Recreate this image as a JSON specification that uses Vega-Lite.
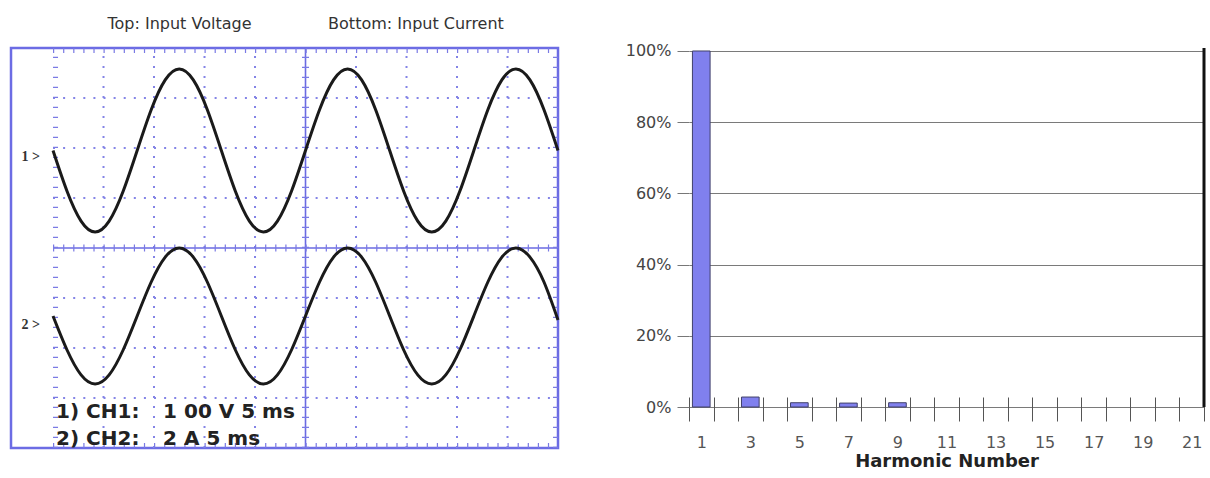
{
  "$schema": "https://vega.github.io/schema/vega-lite/v6.json",
  "background": "white",
  "padding": {"left": 9, "top": 14, "right": 5, "bottom": 5},
  "config": {"view": {"stroke": null}, "font": "DejaVu Sans"},
  "bounds": "flush",
  "spacing": 131,
  "datasets": {
    "waves": [
      {"ch": 1, "t": 0, "v": 1.95}, {"ch": 1, "t": 1.389, "v": 1.135}, {"ch": 1, "t": 2.778, "v": 0.538}, {"ch": 1, "t": 4.167, "v": 0.32},
      {"ch": 1, "t": 5.556, "v": 0.538}, {"ch": 1, "t": 6.944, "v": 1.135}, {"ch": 1, "t": 8.333, "v": 1.95}, {"ch": 1, "t": 9.722, "v": 2.765},
      {"ch": 1, "t": 11.111, "v": 3.362}, {"ch": 1, "t": 12.5, "v": 3.58}, {"ch": 1, "t": 13.889, "v": 3.362}, {"ch": 1, "t": 15.278, "v": 2.765},
      {"ch": 1, "t": 16.667, "v": 1.95}, {"ch": 1, "t": 18.056, "v": 1.135}, {"ch": 1, "t": 19.444, "v": 0.538}, {"ch": 1, "t": 20.833, "v": 0.32},
      {"ch": 1, "t": 22.222, "v": 0.538}, {"ch": 1, "t": 23.611, "v": 1.135}, {"ch": 1, "t": 25, "v": 1.95}, {"ch": 1, "t": 26.389, "v": 2.765},
      {"ch": 1, "t": 27.778, "v": 3.362}, {"ch": 1, "t": 29.167, "v": 3.58}, {"ch": 1, "t": 30.556, "v": 3.362}, {"ch": 1, "t": 31.944, "v": 2.765},
      {"ch": 1, "t": 33.333, "v": 1.95}, {"ch": 1, "t": 34.722, "v": 1.135}, {"ch": 1, "t": 36.111, "v": 0.538}, {"ch": 1, "t": 37.5, "v": 0.32},
      {"ch": 1, "t": 38.889, "v": 0.538}, {"ch": 1, "t": 40.278, "v": 1.135}, {"ch": 1, "t": 41.667, "v": 1.95}, {"ch": 1, "t": 43.056, "v": 2.765},
      {"ch": 1, "t": 44.444, "v": 3.362}, {"ch": 1, "t": 45.833, "v": 3.58}, {"ch": 1, "t": 47.222, "v": 3.362}, {"ch": 1, "t": 48.611, "v": 2.765},
      {"ch": 1, "t": 50, "v": 1.95},
      {"ch": 2, "t": 0, "v": -1.36}, {"ch": 2, "t": 1.389, "v": -2.04}, {"ch": 2, "t": 2.778, "v": -2.538}, {"ch": 2, "t": 4.167, "v": -2.72},
      {"ch": 2, "t": 5.556, "v": -2.538}, {"ch": 2, "t": 6.944, "v": -2.04}, {"ch": 2, "t": 8.333, "v": -1.36}, {"ch": 2, "t": 9.722, "v": -0.68},
      {"ch": 2, "t": 11.111, "v": -0.182}, {"ch": 2, "t": 12.5, "v": 0}, {"ch": 2, "t": 13.889, "v": -0.182}, {"ch": 2, "t": 15.278, "v": -0.68},
      {"ch": 2, "t": 16.667, "v": -1.36}, {"ch": 2, "t": 18.056, "v": -2.04}, {"ch": 2, "t": 19.444, "v": -2.538}, {"ch": 2, "t": 20.833, "v": -2.72},
      {"ch": 2, "t": 22.222, "v": -2.538}, {"ch": 2, "t": 23.611, "v": -2.04}, {"ch": 2, "t": 25, "v": -1.36}, {"ch": 2, "t": 26.389, "v": -0.68},
      {"ch": 2, "t": 27.778, "v": -0.182}, {"ch": 2, "t": 29.167, "v": 0}, {"ch": 2, "t": 30.556, "v": -0.182}, {"ch": 2, "t": 31.944, "v": -0.68},
      {"ch": 2, "t": 33.333, "v": -1.36}, {"ch": 2, "t": 34.722, "v": -2.04}, {"ch": 2, "t": 36.111, "v": -2.538}, {"ch": 2, "t": 37.5, "v": -2.72},
      {"ch": 2, "t": 38.889, "v": -2.538}, {"ch": 2, "t": 40.278, "v": -2.04}, {"ch": 2, "t": 41.667, "v": -1.36}, {"ch": 2, "t": 43.056, "v": -0.68},
      {"ch": 2, "t": 44.444, "v": -0.182}, {"ch": 2, "t": 45.833, "v": 0}, {"ch": 2, "t": 47.222, "v": -0.182}, {"ch": 2, "t": 48.611, "v": -0.68},
      {"ch": 2, "t": 50, "v": -1.44}
    ],
    "harmonics": [
      {"harmonic": 1, "pct": 1.0},
      {"harmonic": 3, "pct": 0.028},
      {"harmonic": 5, "pct": 0.012},
      {"harmonic": 7, "pct": 0.011},
      {"harmonic": 9, "pct": 0.012}
    ]
  },
  "hconcat": [
    {
      "width": 547,
      "height": 400,
      "view": {"stroke": "#6c6ce4", "strokeWidth": 2.5},
      "layer": [
        {
          "data": {"values": [{"v": -3}, {"v": -2}, {"v": -1}, {"v": 1}, {"v": 2}, {"v": 3}]},
          "mark": {"type": "rule", "color": "#8484e6", "strokeWidth": 2, "strokeDash": [2, 8.1]},
          "encoding": {
            "y": {"field": "v", "type": "quantitative", "scale": {"domain": [-4, 4], "nice": false, "zero": false}, "axis": null},
            "x": {"datum": 0, "type": "quantitative", "scale": {"domain": [-4.16, 50], "nice": false, "zero": false}, "axis": null},
            "x2": {"datum": 50}
          }
        },
        {
          "data": {"values": [{"t": 5}, {"t": 10}, {"t": 15}, {"t": 20}, {"t": 30}, {"t": 35}, {"t": 40}, {"t": 45}]},
          "mark": {"type": "rule", "color": "#8484e6", "strokeWidth": 2, "strokeDash": [2, 8]},
          "encoding": {
            "x": {"field": "t", "type": "quantitative", "scale": {"domain": [-4.16, 50], "nice": false, "zero": false}, "axis": null},
            "y": {"datum": -4, "type": "quantitative", "scale": {"domain": [-4, 4], "nice": false, "zero": false}, "axis": null},
            "y2": {"datum": 4}
          }
        },
        {
          "data": {"values": [{"v": 0}]},
          "mark": {"type": "rule", "color": "#6a6ae2", "strokeWidth": 1.6},
          "encoding": {
            "y": {"field": "v", "type": "quantitative", "axis": null},
            "x": {"datum": 0, "type": "quantitative", "axis": null},
            "x2": {"datum": 50}
          }
        },
        {
          "data": {"values": [{"t": 25}]},
          "mark": {"type": "rule", "color": "#6a6ae2", "strokeWidth": 1.6},
          "encoding": {
            "x": {"field": "t", "type": "quantitative", "axis": null},
            "y": {"datum": -4, "type": "quantitative", "axis": null},
            "y2": {"datum": 4}
          }
        },
        {
          "data": {"values": [{"v": 0}]},
          "mark": {"type": "rule", "color": "#7a7ae4", "strokeWidth": 7, "strokeDash": [1.2, 8.9]},
          "encoding": {
            "y": {"field": "v", "type": "quantitative", "axis": null},
            "x": {"datum": 0, "type": "quantitative", "axis": null},
            "x2": {"datum": 50}
          }
        },
        {
          "data": {"values": [{"v": 4}]},
          "mark": {"type": "rule", "color": "#7a7ae4", "strokeWidth": 5, "yOffset": 2.5, "strokeDash": [1.2, 8.9]},
          "encoding": {
            "y": {"field": "v", "type": "quantitative", "axis": null},
            "x": {"datum": 0, "type": "quantitative", "axis": null},
            "x2": {"datum": 50}
          }
        },
        {
          "data": {"values": [{"v": -4}]},
          "mark": {"type": "rule", "color": "#7a7ae4", "strokeWidth": 5, "yOffset": -2.5, "strokeDash": [1.2, 8.9]},
          "encoding": {
            "y": {"field": "v", "type": "quantitative", "axis": null},
            "x": {"datum": 0, "type": "quantitative", "axis": null},
            "x2": {"datum": 50}
          }
        },
        {
          "data": {"values": [{"t": 25}]},
          "mark": {"type": "rule", "color": "#7a7ae4", "strokeWidth": 7, "strokeDash": [1.2, 8.8]},
          "encoding": {
            "x": {"field": "t", "type": "quantitative", "axis": null},
            "y": {"datum": -4, "type": "quantitative", "axis": null},
            "y2": {"datum": 4}
          }
        },
        {
          "data": {"values": [{"t": 0}]},
          "mark": {"type": "rule", "color": "#7a7ae4", "strokeWidth": 5, "xOffset": 2.5, "strokeDash": [1.2, 8.8]},
          "encoding": {
            "x": {"field": "t", "type": "quantitative", "axis": null},
            "y": {"datum": -4, "type": "quantitative", "axis": null},
            "y2": {"datum": 4}
          }
        },
        {
          "data": {"values": [{"t": 50}]},
          "mark": {"type": "rule", "color": "#7a7ae4", "strokeWidth": 5, "xOffset": -2.5, "strokeDash": [1.2, 8.8]},
          "encoding": {
            "x": {"field": "t", "type": "quantitative", "axis": null},
            "y": {"datum": -4, "type": "quantitative", "axis": null},
            "y2": {"datum": 4}
          }
        },
        {
          "data": {"name": "waves"},
          "mark": {"type": "line", "color": "#1a1a1a", "strokeWidth": 3, "interpolate": "natural"},
          "encoding": {
            "x": {"field": "t", "type": "quantitative", "axis": null},
            "y": {"field": "v", "type": "quantitative", "axis": null},
            "detail": {"field": "ch", "type": "nominal"}
          }
        },
        {
          "data": {"values": [
            {"t": 12.52, "v": 4.48, "label": "Top: Input Voltage"},
            {"t": 35.94, "v": 4.48, "label": "Bottom: Input Current"}
          ]},
          "mark": {"type": "text", "font": "DejaVu Sans", "fontSize": 16, "color": "#333333", "align": "center", "baseline": "middle"},
          "encoding": {
            "x": {"field": "t", "type": "quantitative", "axis": null},
            "y": {"field": "v", "type": "quantitative", "axis": null},
            "text": {"field": "label"}
          }
        },
        {
          "data": {"values": [
            {"t": -2.2, "v": 1.82, "label": "1 >"},
            {"t": -2.2, "v": -1.54, "label": "2 >"}
          ]},
          "mark": {"type": "text", "font": "Liberation Serif", "fontSize": 14, "fontWeight": "bold", "color": "#333333", "align": "center", "baseline": "middle"},
          "encoding": {
            "x": {"field": "t", "type": "quantitative", "axis": null},
            "y": {"field": "v", "type": "quantitative", "axis": null},
            "text": {"field": "label"}
          }
        },
        {
          "data": {"values": [
            {"t": 0.3, "v": -3.28, "label": "1) CH1:"},
            {"t": 0.3, "v": -3.82, "label": "2) CH2:"},
            {"t": 10.9, "v": -3.28, "label": "1 00 V  5 ms"},
            {"t": 10.9, "v": -3.82, "label": "2 A  5 ms"}
          ]},
          "mark": {"type": "text", "font": "DejaVu Sans", "fontSize": 20, "fontWeight": "bold", "color": "#222222", "align": "left", "baseline": "middle"},
          "encoding": {
            "x": {"field": "t", "type": "quantitative", "axis": null},
            "y": {"field": "v", "type": "quantitative", "axis": null},
            "text": {"field": "label"}
          }
        }
      ]
    },
    {
      "width": 515,
      "height": 359,
      "layer": [
        {
          "data": {"name": "harmonics"},
          "mark": {"type": "bar", "width": {"band": 0.72}, "fill": "#8080ee", "stroke": "#40406a", "strokeWidth": 1},
          "encoding": {
            "x": {
              "field": "harmonic", "type": "ordinal",
              "scale": {"domain": [1, 2, 3, 4, 5, 6, 7, 8, 9, 10, 11, 12, 13, 14, 15, 16, 17, 18, 19, 20, 21], "paddingInner": 0, "paddingOuter": 0},
              "axis": {
                "title": "Harmonic Number", "titleFont": "DejaVu Sans", "titleFontWeight": "bold", "titleFontSize": 18, "titleColor": "#222222", "titlePadding": 2,
                "labelAngle": 0, "labelExpr": "datum.value % 2 == 1 ? datum.label : ''", "labelOverlap": false,
                "labelFont": "DejaVu Sans", "labelFontSize": 16, "labelColor": "#555555", "labelBaseline": "middle", "labelPadding": 21,
                "tickBand": "extent", "tickSize": 24, "tickColor": "#555555", "tickWidth": 1, "domain": false, "offset": -10, "grid": false
              }
            },
            "y": {
              "field": "pct", "type": "quantitative",
              "scale": {"domain": [0, 1.0084], "nice": false, "zero": true},
              "axis": {
                "values": [0, 0.2, 0.4, 0.6, 0.8, 1], "format": ".0%", "title": null, "domain": false,
                "tickSize": 12, "tickColor": "#777777", "grid": true, "gridColor": "#7a7a7a", "gridWidth": 1,
                "labelFont": "DejaVu Sans", "labelFontSize": 16, "labelColor": "#444444", "labelPadding": 6
              }
            }
          }
        },
        {
          "data": {"values": [{"harmonic": 21}]},
          "mark": {"type": "rule", "color": "#111111", "strokeWidth": 3},
          "encoding": {
            "x": {"field": "harmonic", "type": "ordinal", "bandPosition": 1},
            "y": {"datum": 0},
            "y2": {"datum": 1.0084}
          }
        }
      ]
    }
  ]
}
